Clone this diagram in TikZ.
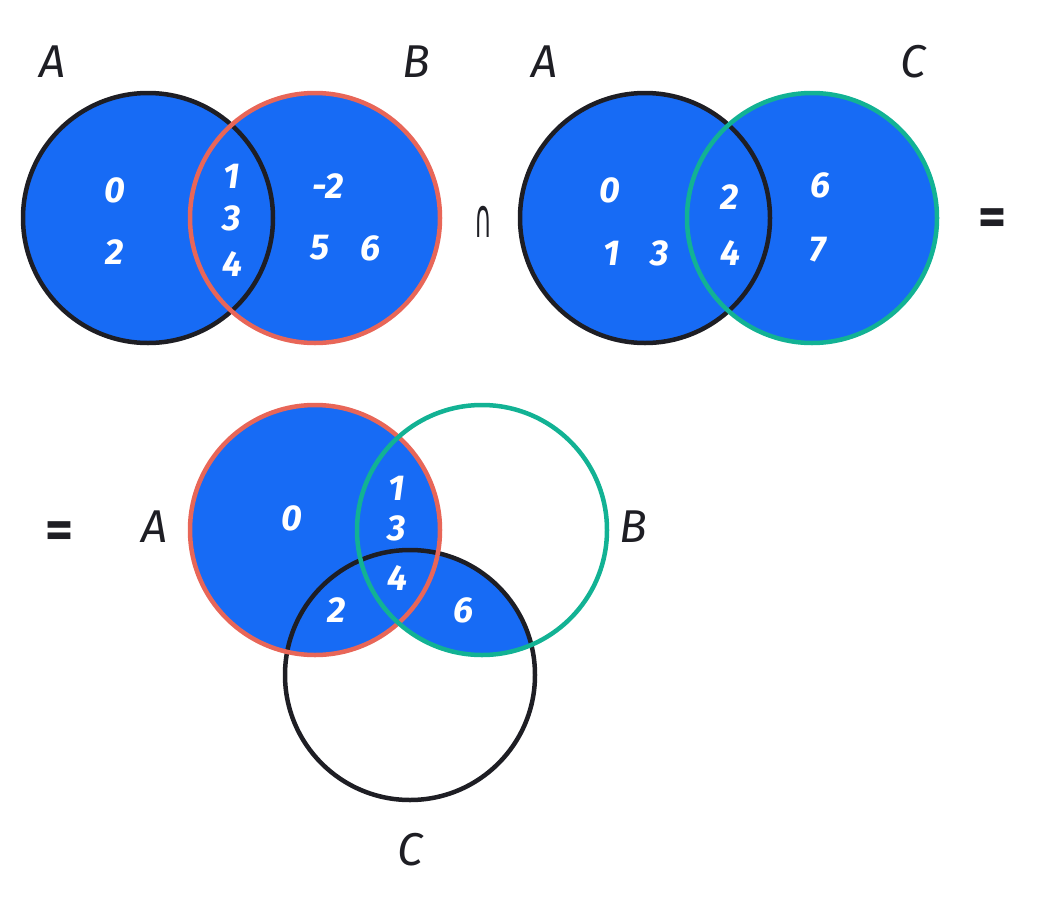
\documentclass[tikz,border=0pt]{standalone}
\usepackage{fontspec}
\setmainfont{Fira Sans}
\newfontfamily\opfont{DejaVu Sans}
\definecolor{setblue}{RGB}{23,107,245}
\definecolor{setred}{RGB}{232,102,88}
\definecolor{setteal}{RGB}{18,178,148}
\definecolor{setblack}{RGB}{30,30,36}
\tikzset{
 setring/.style={shape=circle,minimum size=250pt,inner sep=0pt,outer sep=0pt},
 rim/.style={line width=4.5pt},
 elem/.style={text=white,font=\fontsize{36}{40}\selectfont\bfseries\itshape},
 setname/.style={text=setblack,font=\fontsize{46}{50}\selectfont\itshape},
 opsign/.style={text=setblack,font=\fontsize{54}{58}\selectfont\bfseries},
}
\begin{document}
\begin{tikzpicture}[x=1pt,y=-1pt]
 \useasboundingbox (0,0) rectangle (1042,905);
 % A union B
 \node (ringA1) at (148,218) [setring,fill=setblue] {};
 \node (ringB1) at (315,218) [setring,fill=setblue] {};
 \draw[rim,setblack] (ringA1.center) circle[radius=125pt];
 \draw[rim,setred] (ringB1.center) circle[radius=125pt];
 \node (nameA1) at (53,62) [setname] {A};
 \node (nameB1) at (416,62) [setname] {B};
 \node (e10) at (115,190) [elem] {0};
 \node (e12) at (115,252) [elem] {2};
 \node (e11) at (232,176) [elem] {1};
 \node (e13) at (232,218) [elem] {3};
 \node (e14) at (232,264) [elem] {4};
 \node (e1m2) at (328,186) [elem] {-2};
 \node (e15) at (320,248) [elem] {5};
 \node (e16) at (370,248) [elem] {6};
 \node (cap) at (483,222) [text=setblack,font=\fontsize{54}{58}\opfont] {\scalebox{0.45}[1]{∩}};
 % A union C
 \node (ringA2) at (645,218) [setring,fill=setblue] {};
 \node (ringC2) at (812,218) [setring,fill=setblue] {};
 \draw[rim,setblack] (ringA2.center) circle[radius=125pt];
 \draw[rim,setteal] (ringC2.center) circle[radius=125pt];
 \node (nameA2) at (545,62) [setname] {A};
 \node (nameC2) at (913,62) [setname] {C};
 \node (e20) at (610,190) [elem] {0};
 \node (e21) at (612,253) [elem] {1};
 \node (e23) at (660,253) [elem] {3};
 \node (e22) at (730,197) [elem] {2};
 \node (e24) at (730,253) [elem] {4};
 \node (e26) at (820,185) [elem] {6};
 \node (e27) at (818,250) [elem] {7};
 \node (eq1) at (993,222) [opsign] {=};
 % A union (B cap C)
 \node (eq2) at (60,535) [opsign] {=};
 \node (ringA3) at (315,530) [setring,fill=setblue] {};
 \coordinate (ringB3) at (482,530);
 \coordinate (ringC3) at (410,675);
 \begin{scope}
  \clip (ringB3) circle[radius=125pt];
  \fill[setblue] (ringC3) circle[radius=125pt];
 \end{scope}
 \draw[rim,setblack] (ringC3) circle[radius=125pt];
 \draw[rim,setred] (ringA3.center) circle[radius=125pt];
 \draw[rim,setteal] (ringB3) circle[radius=125pt];
 \node (nameA3) at (155,527) [setname] {A};
 \node (nameB3) at (633,527) [setname] {B};
 \node (nameC3) at (410,850) [setname] {C};
 \node (e30) at (292,518) [elem] {0};
 \node (e31) at (397,488) [elem] {1};
 \node (e33) at (397,528) [elem] {3};
 \node (e34) at (397,578) [elem] {4};
 \node (e32) at (337,610) [elem] {2};
 \node (e36) at (463,610) [elem] {6};
\end{tikzpicture}
\end{document}
